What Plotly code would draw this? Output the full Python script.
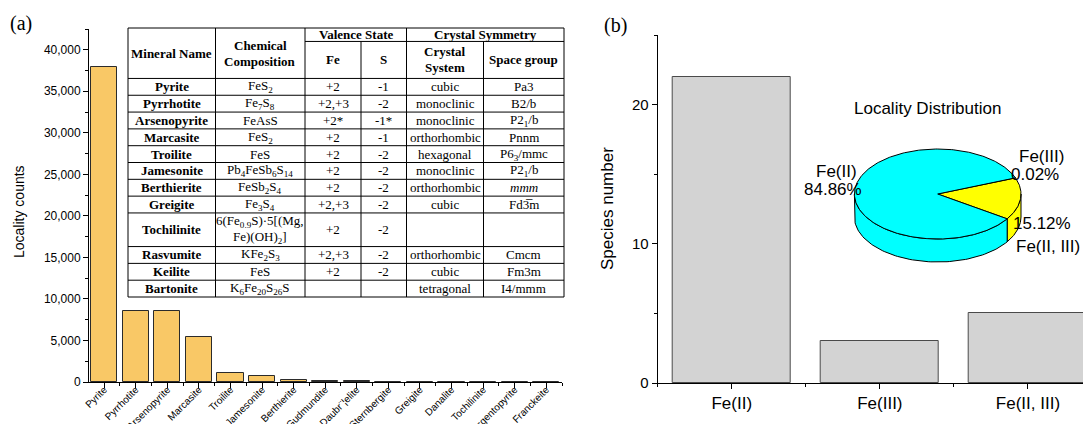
import numpy as np
import plotly.graph_objects as go

# ---------------- data ----------------
minerals = ["Pyrite", "Pyrrhotite", "Arsenopyrite", "Marcasite", "Troilite", "Jamesonite",
            "Berthierite", "Gudmundite", "Daubr¨¦elite", "Sternbergite", "Greigite",
            "Danalite", "Tochilinite", "Argentopyrite", "Franckeite"]
locality_counts = [37900, 8600, 8560, 5450, 1050, 780, 300, 170, 150, 40, 35, 25, 20, 15, 10]

valence_groups = ["Fe(II)", "Fe(III)", "Fe(II, III)"]
species_number = [22, 3, 5]

pie_labels = ["Fe(II)", "Fe(III)", "Fe(II, III)"]
pie_percent = [84.86, 0.02, 15.12]
pie_colors = ["#00FFFF", "#FFFF00", "#FFFF00"]

tbl_mineral = ["Pyrite", "Pyrrhotite", "Arsenopyrite", "Marcasite", "Troilite", "Jamesonite",
               "Berthierite", "Greigite", "Tochilinite", "Rasvumite", "Keilite", "Bartonite"]
tbl_composition = ["FeS<sub>2</sub>", "Fe<sub>7</sub>S<sub>8</sub>", "FeAsS", "FeS<sub>2</sub>", "FeS",
                   "Pb<sub>4</sub>FeSb<sub>6</sub>S<sub>14</sub>", "FeSb<sub>2</sub>S<sub>4</sub>",
                   "Fe<sub>3</sub>S<sub>4</sub>",
                   "6(Fe<sub>0.9</sub>S)·5[(Mg,<br>Fe)(OH)<sub>2</sub>]",
                   "KFe<sub>2</sub>S<sub>3</sub>", "FeS", "K<sub>6</sub>Fe<sub>20</sub>S<sub>26</sub>S"]
tbl_fe = ["+2", "+2,+3", "+2*", "+2", "+2", "+2", "+2", "+2,+3", "+2", "+2,+3", "+2", ""]
tbl_s = ["-1", "-2", "-1*", "-1", "-2", "-2", "-2", "-2", "-2", "-2", "-2", ""]
tbl_system = ["cubic", "monoclinic", "monoclinic", "orthorhombic", "hexagonal", "monoclinic",
              "orthorhombic", "cubic", "", "orthorhombic", "cubic", "tetragonal"]
tbl_space = ["Pa3", "B2/b", "P2<sub>1</sub>/b", "Pnnm", "P6<sub>3</sub>/mmc", "P2<sub>1</sub>/b",
             "<i>mmm</i>", "Fd3\u0305m", "", "Cmcm", "Fm3m", "I4/mmm"]
tbl_row_units = [1, 1, 1, 1, 1, 1, 1, 1, 2, 1, 1, 1]

# ---------------- layout helpers (screen px -> paper) ----------------
SW, SH = 1091, 432          # browser window
OFF = 8                     # default body margin of the html page
FW, FH = SW - 2 * OFF, SH - 2 * OFF
def fx(x): return min(1.0, max(0.0, (x - OFF) / FW))
def fy(y): return min(1.0, max(0.0, 1 - (y - OFF) / FH))

SANS = "Liberation Sans, Arial, sans-serif"
SERIF = "Liberation Serif, Times New Roman, serif"

fig = go.Figure()

# ---------------- panel (a) bars ----------------
fig.add_trace(go.Bar(x=list(range(len(minerals))), y=locality_counts, width=0.83,
                     marker=dict(color="#F9C866", line=dict(color="#2b2b2b", width=1)),
                     xaxis="x", yaxis="y", showlegend=False))

# ---------------- panel (b) bars ----------------
fig.add_trace(go.Bar(x=list(range(len(valence_groups))), y=species_number, width=0.8,
                     marker=dict(color="#D3D3D3", line=dict(color="#4a4a4a", width=1)),
                     xaxis="x2", yaxis="y2", showlegend=False))

# ---------------- 3D pie (computed from percentages) ----------------
cx, cy, rx, ry, depth = 937.7, 194.0, 83.3, 45.0, 23.0
start = 21.0
order = [1, 2, 0]
slices = []
a = start
for i in order:
    span = pie_percent[i] / 100 * 360
    slices.append((i, a, a - span))
    a -= span

def ell(t, dy=0.0):
    t = np.radians(t)
    return cx + rx * np.cos(t), cy - ry * np.sin(t) + dy

for i, a0, a1 in slices:
    for k in range(-2, 2):
        lo = max(a1, -180 + 360 * k)
        hi = min(a0, 0 + 360 * k)
        if lo < hi:
            ts = np.linspace(hi, lo, 80)
            xt, yt = ell(ts)
            xb, yb = ell(ts[::-1], depth)
            xs = np.concatenate([xt, xb, xt[:1]])
            ys = np.concatenate([yt, yb, yt[:1]])
            fig.add_trace(go.Scatter(x=xs, y=ys, mode="lines", fill="toself",
                                     fillcolor=pie_colors[i], line=dict(color="black", width=1),
                                     xaxis="x3", yaxis="y3", showlegend=False, hoverinfo="skip"))
for i, a0, a1 in slices:
    n = max(3, int(abs(a0 - a1)))
    ts = np.linspace(a0, a1, n)
    xt, yt = ell(ts)
    xs = np.concatenate([[cx], xt, [cx]])
    ys = np.concatenate([[cy], yt, [cy]])
    fig.add_trace(go.Scatter(x=xs, y=ys, mode="lines", fill="toself",
                             fillcolor=pie_colors[i], line=dict(color="black", width=1),
                             xaxis="x3", yaxis="y3", showlegend=False, hoverinfo="skip"))

annotations = []
def ann(x, y, text, size, font=SANS, color="black", **kw):
    d = dict(x=fx(x), y=fy(y), xref="paper", yref="paper", text=text, showarrow=False,
             font=dict(family=font, size=size, color=color), xanchor="center", yanchor="middle")
    d.update(kw)
    annotations.append(d)

pct = [f"{p:.2f}%" for p in pie_percent]
ann(836, 172, pie_labels[0], 17)
ann(833, 189, pct[0], 17)
ann(1041, 157, pie_labels[1], 17)
ann(1035, 174, pct[1], 17)
ann(1042, 223, pct[2], 17)
ann(1082, 246, pie_labels[2], 17, xanchor="right")
ann(927, 108, "Locality Distribution", 17)

ann(21, 24, "(a)", 20, font=SERIF)
ann(615, 26, "(b)", 20, font=SERIF)
ann(19, 212, "Locality counts", 14, textangle=-90)
ann(608, 209, "Species number", 17, textangle=-90)

# ---------------- table ----------------
col_edges = [128, 215.5, 305, 361, 406.5, 483.5, 564]
tbl_top, tbl_bot = 28, 297
header_units, sub_units = 3, 0.8
total_units = header_units + sum(tbl_row_units)
u = (tbl_bot - tbl_top) / total_units
y_sub = tbl_top + sub_units * u
y_head = tbl_top + header_units * u
row_edges = [y_head]
for ru in tbl_row_units:
    row_edges.append(row_edges[-1] + ru * u)

shapes = []
shapes.append(dict(type="rect", xref="paper", yref="paper", x0=fx(col_edges[0]), x1=fx(col_edges[-1]),
                   y0=fy(tbl_bot), y1=fy(tbl_top), fillcolor="white", line=dict(color="black", width=1),
                   layer="above"))
def hline(x0, x1, y):
    shapes.append(dict(type="line", xref="paper", yref="paper", x0=fx(x0), x1=fx(x1), y0=fy(y), y1=fy(y),
                       line=dict(color="black", width=1), layer="above"))
def vline(x, y0, y1):
    shapes.append(dict(type="line", xref="paper", yref="paper", x0=fx(x), x1=fx(x), y0=fy(y0), y1=fy(y1),
                       line=dict(color="black", width=1), layer="above"))

hline(col_edges[2], col_edges[6], y_sub)
for y in row_edges[:-1]:
    hline(col_edges[0], col_edges[6], y)
for j, x in enumerate(col_edges[1:-1], start=1):
    if j in (3, 5):
        vline(x, y_sub, tbl_bot)
    else:
        vline(x, tbl_top, tbl_bot)

def cmid(j0, j1=None):
    j1 = j0 if j1 is None else j1
    return (col_edges[j0] + col_edges[j1 + 1]) / 2

TS = 13
hm = (tbl_top + y_head) / 2
lm = (y_sub + y_head) / 2
ann(cmid(0), hm, "<b>Mineral Name</b>", TS, font=SERIF)
ann(cmid(1), hm - 8, "<b>Chemical</b>", TS, font=SERIF)
ann(cmid(1), hm + 8, "<b>Composition</b>", TS, font=SERIF)
ann(cmid(2, 3), (tbl_top + y_sub) / 2, "<b>Valence State</b>", TS, font=SERIF)
ann(cmid(4, 5), (tbl_top + y_sub) / 2, "<b>Crystal Symmetry</b>", TS, font=SERIF)
ann(cmid(2), lm, "<b>Fe</b>", TS, font=SERIF)
ann(cmid(3), lm, "<b>S</b>", TS, font=SERIF)
ann(cmid(4), lm - 8, "<b>Crystal</b>", TS, font=SERIF)
ann(cmid(4), lm + 8, "<b>System</b>", TS, font=SERIF)
ann(cmid(5), lm, "<b>Space group</b>", TS, font=SERIF)

for r in range(len(tbl_mineral)):
    ym = (row_edges[r] + row_edges[r + 1]) / 2
    ann(cmid(0), ym, "<b>" + tbl_mineral[r] + "</b>", TS, font=SERIF)
    comp = tbl_composition[r]
    if "<br>" in comp:
        l1, l2 = comp.split("<br>")
        ann(cmid(1), ym - 8, l1, TS, font=SERIF)
        ann(cmid(1), ym + 8, l2, TS, font=SERIF)
    else:
        ann(cmid(1), ym, comp, TS, font=SERIF)
    ann(cmid(2), ym, tbl_fe[r], TS, font=SERIF)
    ann(cmid(3), ym, tbl_s[r], TS, font=SERIF)
    ann(cmid(4), ym, tbl_system[r], TS, font=SERIF)
    ann(cmid(5), ym, tbl_space[r], TS, font=SERIF)

# ---------------- axes ----------------
axis_common = dict(showline=True, linecolor="black", linewidth=1, showgrid=False, zeroline=False,
                   ticks="outside", tickcolor="black", ticklen=5, tickwidth=1, mirror=False,
                   automargin=False)

fig.update_layout(
    template="none",
    width=FW, height=FH, margin=dict(l=0, r=0, t=0, b=0, pad=0), autosize=False,
    paper_bgcolor="white", plot_bgcolor="rgba(0,0,0,0)",
    showlegend=False, bargap=0,
    xaxis=dict(domain=[fx(89), fx(562)], range=[-0.48, 14.5], anchor="y",
               tickmode="array", tickvals=list(range(len(minerals))), ticktext=minerals,
               tickangle=-45, tickfont=dict(family=SANS, size=10, color="black"),
               ticklabelstandoff=-8,
               minor=dict(ticks="outside", ticklen=3, tickcolor="black", dtick=1, tick0=0.5, showgrid=False),
               **axis_common),
    yaxis=dict(domain=[fy(382), fy(29)], range=[0, 42500], anchor="x",
               dtick=5000, tickformat=",", tickfont=dict(family=SANS, size=12, color="black"),
               minor=dict(ticks="outside", ticklen=3, tickcolor="black", dtick=2500, showgrid=False),
               **axis_common),
    xaxis2=dict(domain=[fx(657.7), 1.0], range=[-0.5, (FW + OFF - 732) / 148.0], anchor="y2",
                tickmode="array", tickvals=list(range(len(valence_groups))), ticktext=valence_groups,
                tickfont=dict(family=SANS, size=17, color="black"),
                minor=dict(ticks="outside", ticklen=3, tickcolor="black", dtick=1, tick0=0.5, showgrid=False),
                **axis_common),
    yaxis2=dict(domain=[fy(383), fy(35)], range=[0, 25], anchor="x2",
                dtick=10, tickfont=dict(family=SANS, size=15, color="black"),
                minor=dict(ticks="outside", ticklen=3, tickcolor="black", dtick=5, showgrid=False),
                **axis_common),
    xaxis3=dict(domain=[0, 1], range=[OFF, OFF + FW], anchor="y3", visible=False, fixedrange=True,
                automargin=False),
    yaxis3=dict(domain=[0, 1], range=[OFF + FH, OFF], anchor="x3", visible=False, fixedrange=True,
                automargin=False),
    shapes=shapes, annotations=annotations,
)

fig.write_html("out.html")
